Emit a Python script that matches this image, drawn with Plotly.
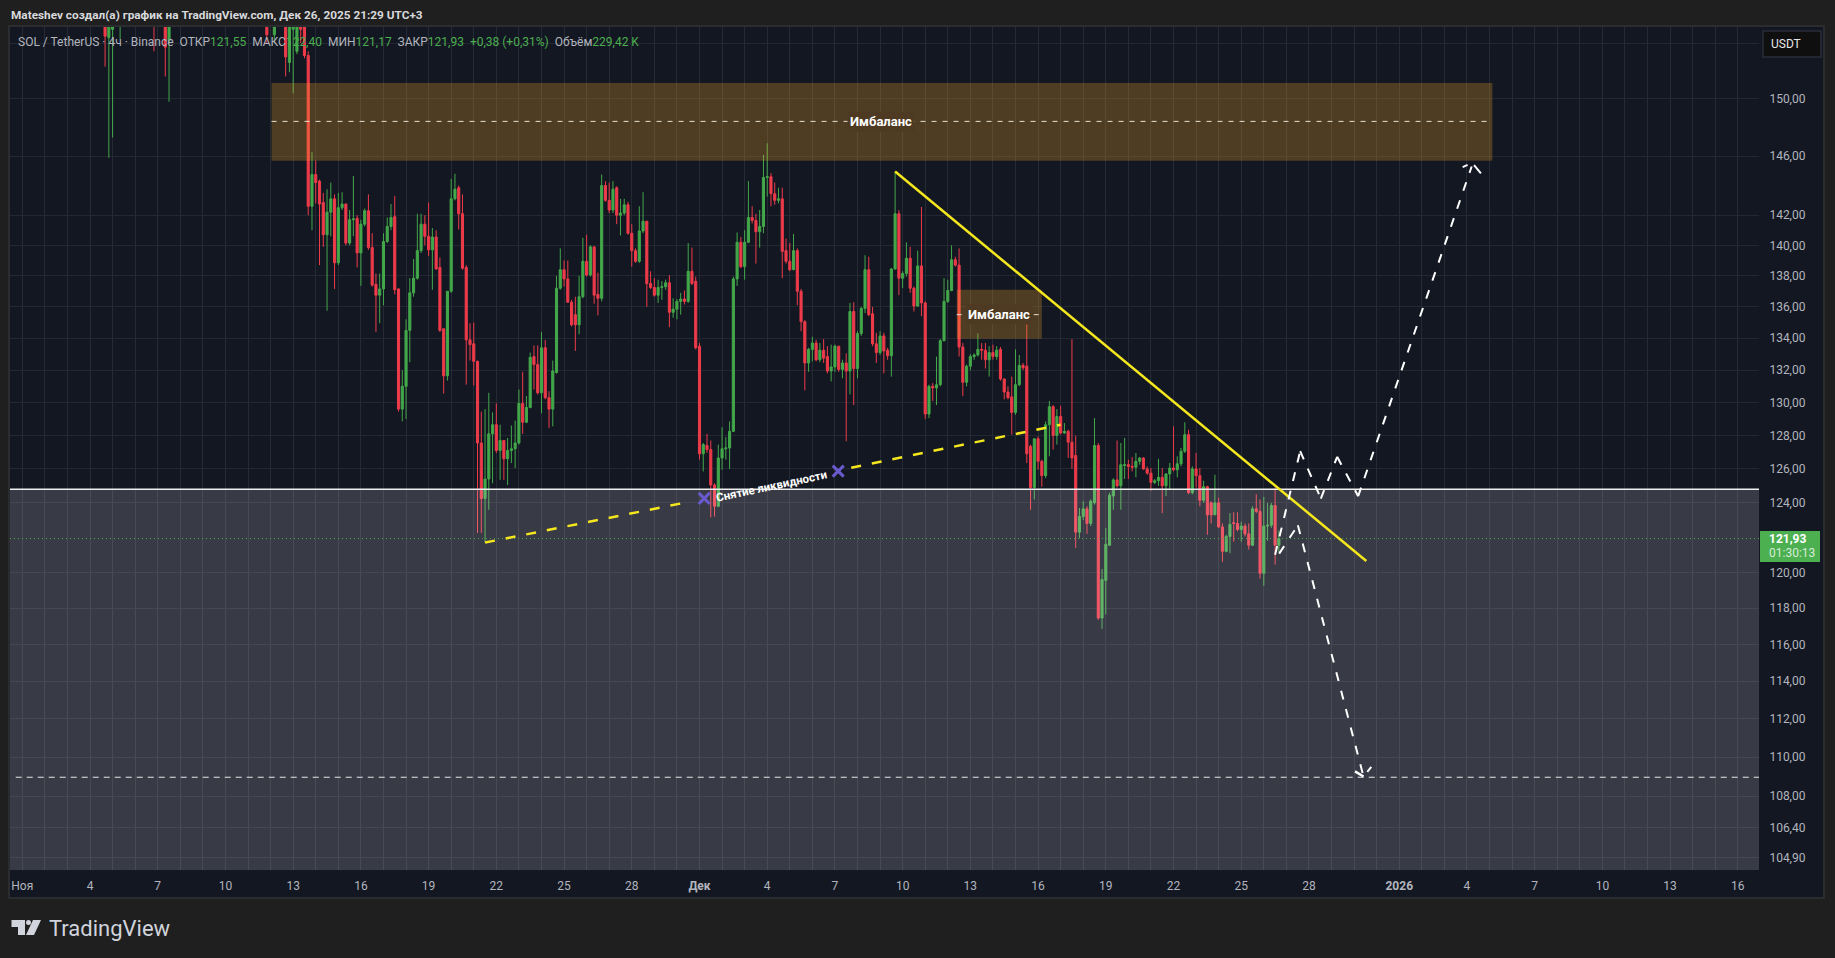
import numpy as np
import pandas as pd
import plotly.graph_objects as go

# 4h bars that poke into the window from above in early November
early_times = ["2025-11-04 16:00", "2025-11-04 20:00", "2025-11-05 00:00", "2025-11-05 08:00", "2025-11-06 20:00",
               "2025-11-07 08:00", "2025-11-07 12:00", "2025-11-11 20:00", "2025-11-12 04:00", "2025-11-12 16:00",
               "2025-11-12 20:00", "2025-11-13 00:00", "2025-11-13 04:00", "2025-11-13 08:00", "2025-11-13 12:00"]
early_open = [158, 154.4, 155, 155.6, 158, 158, 154.2, 158, 154.6, 158, 152.6, 155, 153.4, 156, 157]
early_high = [160, 158, 159, 160, 160, 160, 160, 160, 158, 159, 156, 157, 156, 157, 158]
early_low = [152.3, 145.9, 147.3, 154.3, 153.4, 151.6, 149.8, 154.0, 154.0, 151.6, 151.9, 150.4, 153.2, 154, 152.9]
early_close = [154.5, 157, 158, 158, 156, 153.7, 158, 154.6, 157, 153.0, 155.5, 156, 155.5, 155, 153.1]

# contiguous 4h bars from Nov 13 16:00 to Dec 26 16:00
main_times = pd.date_range("2025-11-13 16:00", "2025-12-26 16:00", freq="4h")
main_open = [153.1,142.6,144.75,144.3,142.85,140.7,142.2,143.1,138.85,142.5,
    142.75,140.15,141.7,141.8,139.5,141.4,142.3,139.85,137.45,136.75,
    137.15,140.25,141.25,141.9,137.15,129.6,131.0,134.5,136.9,137.85,
    139.65,141.4,140.6,139.7,140.55,138.55,134.6,131.65,137.0,143.1,
    143.85,142.1,138.55,133.9,133.65,132.55,127.55,124.25,125.4,128.1,
    128.65,127.1,127.7,126.6,127.1,127.2,127.55,129.95,128.8,129.7,
    132.85,132.35,130.6,133.4,130.3,129.6,131.85,137.2,138.4,137.8,
    136.3,135.5,134.85,136.65,138.95,138.05,139.9,136.8,136.55,144.0,
    143.0,142.35,143.85,142.0,142.15,142.7,140.8,139.65,138.95,140.95,
    141.6,137.5,137.25,136.75,137.25,137.3,137.55,135.65,135.85,136.35,
    136.5,136.35,138.3,137.65,133.5,126.9,127.4,127.15,125.05,123.8,
    126.65,127.2,127.25,128.25,137.8,140.2,138.6,140.2,141.85,141.65,
    140.9,141.25,144.55,144.6,143.45,143.0,143.1,139.65,138.95,138.4,
    139.65,137.0,135.05,132.45,133.3,133.7,132.65,133.25,132.85,131.95,
    132.2,133.5,132.05,132.45,131.95,135.7,132.1,134.3,135.9,138.4,
    135.55,133.65,133.1,134.15,133.25,132.9,138.45,142.1,137.85,138.15,
    139.15,137.2,136.05,138.65,136.25,129.3,131.0,130.9,131.1,133.85,
    136.35,137.05,139.05,138.7,133.45,131.25,132.25,132.85,132.95,133.3,
    133.25,132.65,133.1,132.85,133.3,131.45,130.65,130.35,129.4,131.1,
    132.3,132.25,127.35,124.9,127.8,126.45,125.6,128.65,129.75,128.0,
    129.15,128.15,128.25,127.6,126.8,122.3,123.2,123.65,122.8,124.0,
    127.4,117.45,119.55,121.55,124.4,125.35,125.0,126.2,126.25,126.15,
    126.1,126.45,126.65,126.0,125.75,125.2,125.3,125.5,125.0,125.7,
    126.05,125.95,126.3,127.05,128.05,124.6,126.0,125.6,124.15,124.95,
    124.0,123.3,124.0,122.6,121.2,122.05,122.85,122.8,122.45,122.65,
    122.2,121.55,123.65,123.5,119.95,122.65,122.7,123.85,121.55]
main_high = [153.4,146.3,145.7,144.4,143.5,143.75,144.2,143.4,143.5,143.55,
    142.8,142.35,144.65,142.0,141.7,142.45,143.4,140.8,138.15,138.15,
    140.8,141.85,142.75,143.3,137.2,132.0,135.2,137.85,139.1,142.1,
    142.1,142.0,142.85,141.15,141.0,139.2,134.6,137.0,144.45,144.8,
    144.0,143.4,138.7,134.95,135.0,132.6,129.45,129.6,130.6,129.4,
    129.95,128.65,127.7,127.85,128.6,128.9,130.8,131.9,130.4,133.1,
    133.55,133.55,134.4,133.9,130.7,132.6,138.0,139.8,139.0,139.0,
    136.45,136.65,138.0,140.5,140.7,140.0,139.9,138.2,144.75,144.3,
    144.2,144.3,143.95,143.1,143.1,142.9,141.4,139.8,142.6,143.55,
    141.6,138.3,137.85,137.75,137.65,137.75,138.05,136.55,136.5,136.9,
    137.05,140.15,139.85,137.95,133.7,127.55,128.1,127.7,125.15,127.45,
    128.5,127.9,128.85,137.95,140.85,140.55,141.0,144.3,142.6,142.1,
    142.35,146.1,146.9,144.85,144.2,143.85,143.85,140.45,140.15,140.75,
    139.8,137.15,135.15,133.4,134.1,133.9,133.7,133.95,133.5,133.6,
    133.6,133.5,132.65,133.05,136.25,136.3,134.45,136.0,139.35,139.25,
    136.0,134.35,134.45,134.35,133.4,138.5,144.95,142.35,138.3,140.2,
    139.9,137.3,139.65,142.55,136.35,131.1,131.2,132.85,133.95,137.85,
    137.75,140.0,139.25,139.8,133.7,132.35,133.0,133.05,134.3,133.7,
    133.7,133.5,133.6,133.5,133.45,131.5,131.0,131.6,133.3,132.95,
    132.45,135.3,127.45,127.85,127.95,126.55,128.85,130.1,129.85,129.6,
    129.8,128.75,128.35,133.95,128.0,123.7,124.1,123.8,124.2,129.05,
    127.55,120.2,122.55,124.6,125.45,127.7,127.55,127.85,126.55,126.7,
    126.95,126.7,126.7,126.15,126.05,125.4,126.6,126.05,125.75,126.35,
    128.55,126.75,127.25,128.8,128.35,126.15,126.95,126.05,125.3,125.0,
    124.1,125.65,124.3,122.8,122.15,123.4,123.45,123.45,122.9,122.8,
    122.8,123.8,124.5,124.2,124.35,124.0,124.0,124.9,122.4]
main_low = [142.0,141.0,142.8,138.7,139.9,135.75,140.6,137.15,138.7,142.35,
    140.0,140.0,140.6,138.55,137.35,141.25,139.7,137.3,134.4,134.95,
    136.1,140.15,141.0,136.8,129.45,128.85,129.0,132.5,136.65,137.75,
    139.5,140.0,139.3,137.1,138.4,134.4,130.55,131.35,136.9,143.0,
    141.05,138.4,131.1,132.6,131.05,122.25,122.25,121.7,123.6,125.15,
    126.95,125.35,125.35,125.05,126.35,126.05,127.45,128.1,128.75,129.65,
    130.8,130.5,129.35,130.2,128.45,128.55,131.8,137.1,137.3,136.25,
    134.75,133.2,134.25,136.55,137.95,137.95,136.2,135.45,136.35,142.9,
    142.15,142.15,141.4,140.65,142.0,140.7,138.6,138.85,138.85,140.8,
    136.0,137.15,136.65,136.25,136.45,137.1,134.7,135.3,135.2,135.5,
    136.15,136.25,137.4,133.3,126.55,125.85,126.95,123.15,123.2,123.75,
    125.95,126.55,126.0,128.2,137.35,138.5,137.75,140.15,141.45,138.8,
    139.85,140.8,143.25,142.6,142.7,142.8,137.85,138.8,138.3,138.4,
    136.1,134.45,130.75,131.9,132.55,132.55,132.5,132.45,131.8,131.3,
    131.9,131.9,131.5,127.65,130.5,129.85,131.5,134.15,135.6,135.4,
    133.5,132.45,132.95,131.8,132.65,131.6,138.4,136.75,137.2,137.95,
    136.9,135.7,136.0,135.4,129.0,129.05,130.1,129.85,131.0,133.8,
    136.25,137.0,138.6,132.85,130.4,131.0,132.0,132.65,132.85,132.65,
    132.1,131.6,132.65,132.65,131.35,130.2,130.2,128.05,129.25,131.0,
    132.0,126.35,123.6,124.2,125.95,124.95,125.45,126.75,127.15,127.45,
    128.05,128.1,126.65,126.0,121.4,121.95,123.0,122.2,122.65,123.9,
    117.35,116.85,117.65,121.5,123.6,124.9,123.6,125.4,125.4,125.85,
    125.5,126.25,125.95,125.65,124.7,125.1,125.0,123.4,124.4,124.8,
    125.85,125.5,126.15,126.95,124.5,124.5,124.9,123.8,124.0,122.15,
    122.8,123.3,122.55,120.6,121.15,121.1,121.75,122.35,121.75,122.05,
    121.3,121.5,123.4,119.65,119.25,121.8,122.55,120.45,121.17]
main_close = [142.6,144.75,144.2,142.75,140.7,142.2,143.1,138.85,142.5,142.75,
    140.15,141.7,141.75,139.5,141.4,142.3,139.85,137.4,136.75,137.15,
    140.25,141.25,141.85,137.1,129.6,131.0,134.5,136.9,137.85,139.65,
    141.4,140.6,139.7,140.55,138.45,134.5,131.65,137.0,143.1,143.75,
    142.1,138.5,133.9,133.6,132.55,127.55,124.25,125.4,128.1,128.65,
    127.1,127.7,126.6,127.1,127.2,127.55,129.95,128.8,129.7,132.8,
    132.35,130.6,133.4,130.3,129.6,131.95,137.2,138.4,137.8,136.3,
    134.85,134.85,136.65,138.95,138.05,139.9,136.75,136.55,144.0,143.0,
    142.35,143.75,142.0,142.15,142.7,140.8,139.65,138.95,140.95,141.6,
    137.5,137.25,136.75,137.25,137.3,137.55,135.65,135.85,136.35,136.5,
    136.35,138.3,137.5,133.4,126.9,127.45,127.15,125.05,123.8,126.65,
    127.2,127.25,128.25,137.8,140.2,138.6,140.2,141.85,141.65,140.9,
    141.25,144.55,144.6,143.45,143.0,143.1,139.6,138.95,138.4,139.65,
    137.0,135.05,132.45,133.3,133.7,132.65,133.25,132.75,131.95,132.2,
    133.5,132.05,132.45,131.95,135.7,132.1,134.3,135.9,138.4,135.5,
    133.65,133.1,134.15,133.2,132.9,138.45,142.1,137.85,138.15,139.15,
    137.2,136.05,138.65,136.25,129.3,131.0,130.9,131.1,133.85,136.35,
    137.05,139.05,138.7,133.45,131.25,132.25,132.85,132.95,133.3,133.25,
    132.65,133.1,132.85,133.25,131.45,130.65,130.3,129.4,131.1,132.3,
    132.15,126.9,124.9,127.8,126.45,125.6,128.65,129.75,128.0,129.15,
    128.15,128.25,127.6,126.65,122.3,123.2,123.65,122.8,124.1,127.4,
    117.45,119.6,121.6,124.45,125.35,125.0,126.25,126.25,126.15,126.1,
    126.45,126.65,126.0,125.75,125.2,125.3,125.5,125.0,125.7,126.05,
    125.95,126.3,127.05,128.05,124.6,126.0,125.6,124.15,124.95,123.3,
    123.3,124.0,122.6,121.2,122.05,122.75,122.8,122.45,122.65,122.2,
    121.55,123.65,123.5,119.95,122.65,122.7,123.85,121.55,121.93]

# axis ticks
price_ticks = [104.9, 106.4, 108, 110, 112, 114, 116, 118, 120, 124, 126, 128, 130, 132, 134, 136, 138, 140, 142, 146, 150, 154]
price_labels = ["104,90", "106,40", "108,00", "110,00", "112,00", "114,00", "116,00", "118,00", "120,00", "124,00",
                "126,00", "128,00", "130,00", "132,00", "134,00", "136,00", "138,00", "140,00", "142,00", "146,00", "150,00", ""]
day_ticks = pd.date_range("2025-11-01", "2026-01-16", freq="D")
named_days = {"2025-11-01": "Ноя", "2025-11-04": "4", "2025-11-07": "7", "2025-11-10": "10", "2025-11-13": "13",
              "2025-11-16": "16", "2025-11-19": "19", "2025-11-22": "22", "2025-11-25": "25", "2025-11-28": "28",
              "2025-12-01": "<b>Дек</b>", "2025-12-04": "4", "2025-12-07": "7", "2025-12-10": "10", "2025-12-13": "13",
              "2025-12-16": "16", "2025-12-19": "19", "2025-12-22": "22", "2025-12-25": "25", "2025-12-28": "28",
              "2026-01-01": "<b>2026</b>", "2026-01-04": "4", "2026-01-07": "7", "2026-01-10": "10", "2026-01-13": "13",
              "2026-01-16": "16"}

# drawings on the chart: (date, price)
big_zone = [("2025-11-12 01:00", 151.13), ("2026-01-05 03:00", 145.69), 148.42]
small_zone = [("2025-12-12 09:30", 137.1), ("2025-12-16 04:00", 133.97), 135.5]
trend_line = [("2025-12-09 16:00", 144.95), ("2025-12-30 13:00", 120.65)]
liq_line_a = [("2025-11-21 12:00", 121.7), ("2025-11-30 14:00", 124.07)]
liq_line_b = [("2025-12-07 17:20", 126.07), ("2025-12-17 00:00", 128.65)]
liq_marks = [("2025-12-01 05:00", 124.26), ("2025-12-07 03:30", 125.87)]
path_up = [("2025-12-26 12:00", 121.0), ("2025-12-27 14:40", 127.06), ("2025-12-28 12:40", 124.25),
           ("2025-12-29 06:00", 126.72), ("2025-12-30 04:20", 124.39), ("2026-01-04 05:00", 145.3)]
path_down = [("2025-12-26 16:20", 121.07), ("2025-12-27 12:15", 122.7), ("2025-12-30 10:00", 109.0)]
level_low = 108.96
level_box = 124.8
last_price = 121.93

PLOT_L, PLOT_R, PLOT_T, PLOT_B = 10, 1759, 27, 870
Y_MIN, Y_MAX = 104.30, 155.17
TXT = "#b2b5be"
GREEN = "#4caf50"
YELLOW = "#f5e71e"


def px(v):
    return (v - PLOT_L) / (PLOT_R - PLOT_L)


def py(v):
    return (PLOT_B - v) / (PLOT_B - PLOT_T)


fig = go.Figure()

# everything in one candlestick trace so the box width is taken from the 4h spacing
fig.add_trace(go.Candlestick(
    x=early_times + [t.strftime("%Y-%m-%d %H:%M") for t in main_times],
    open=early_open + main_open,
    high=early_high + main_high,
    low=early_low + main_low,
    close=early_close + main_close,
    whiskerwidth=0,
    increasing=dict(line=dict(color="#43a84a", width=1), fillcolor="#43a84a"),
    decreasing=dict(line=dict(color="#ee3b4a", width=1), fillcolor="#ee3b4a"),
    showlegend=False,
    hoverinfo="skip",
))

shapes = []
annotations = []

# panel behind the plot and both axes
shapes.append(dict(type="rect", xref="paper", yref="paper", layer="below",
                   x0=px(9), x1=px(1824), y0=py(898), y1=py(26),
                   fillcolor="#131722", line=dict(color="#2a2c30", width=2)))


def seg(p0, p1, color, width, dash="solid"):
    return dict(type="line", xref="x", yref="y", layer="above", x0=p0[0], y0=p0[1], x1=p1[0], y1=p1[1],
                line=dict(color=color, width=width, dash=dash))


def stroke(anchor, dx, dy, color, width, standoff=0):
    # short stroke in screen pixels, hung on a data point
    annotations.append(dict(x=anchor[0], y=np.log10(anchor[1]), xref="x", yref="y", text="", showarrow=True,
                            arrowhead=0, ax=dx, ay=dy, standoff=standoff, startstandoff=0,
                            arrowwidth=width, arrowcolor=color))


# grey box under the level
shapes.append(dict(type="rect", xref="paper", yref="y", layer="above", x0=0, x1=1, y0=Y_MIN, y1=level_box,
                   fillcolor="rgba(255,245,255,0.16)", line=dict(width=0)))
shapes.append(dict(type="line", xref="paper", yref="y", layer="above", x0=0, x1=1, y0=level_box, y1=level_box,
                   line=dict(color="#f0f0f0", width=1.5)))

# price line
shapes.append(dict(type="line", xref="paper", yref="y", layer="above", x0=0, x1=1, y0=last_price, y1=last_price,
                   line=dict(color=GREEN, width=1, dash="1px,3px")))

# imbalance zones
for zone in (big_zone, small_zone):
    shapes.append(dict(type="rect", xref="x", yref="y", layer="above",
                       x0=zone[0][0], x1=zone[1][0], y0=zone[1][1], y1=zone[0][1],
                       fillcolor="rgba(255,170,40,0.25)", line=dict(width=0)))
    shapes.append(seg((zone[0][0], zone[2]), (zone[1][0], zone[2]), "#e8e0d0", 1, "5px,6px"))

shapes.append(dict(type="line", xref="x", yref="y", layer="above", x0="2025-10-31 17:00", x1="2026-01-16 22:30",
                   y0=level_low, y1=level_low, line=dict(color="#e8e8e8", width=1, dash="6px,5px")))

shapes.append(seg(trend_line[0], trend_line[1], YELLOW, 2.5))
shapes.append(seg(liq_line_a[0], liq_line_a[1], YELLOW, 2.5, "10px,11px"))
shapes.append(seg(liq_line_b[0], liq_line_b[1], YELLOW, 2.5, "10px,11px"))

for path in (path_up, path_down):
    for a, b in zip(path[:-1], path[1:]):
        shapes.append(seg(a, b, "#ffffff", 2, "9px,10px"))

# arrow heads, the dash pattern leaves small gaps at the tips
up_tip = ("2026-01-04 05:30", 145.55)
stroke(up_tip, -11, 5, "#ffffff", 2, standoff=5)
stroke(up_tip, 10, 12, "#ffffff", 2, standoff=3)
stroke(path_down[-1], -10, -6, "#ffffff", 2.5)
stroke(path_down[-1], 9, -11, "#ffffff", 2, standoff=6)

# liquidity crosses
for m in liq_marks:
    for dx, dy in ((-7, -7), (7, 7), (-7, 7), (7, -7)):
        stroke(m, dx, dy, "#6a5acd", 3)

# price tag and currency button
shapes.append(dict(type="rect", xref="paper", yref="paper", layer="above", x0=px(1760), x1=px(1820),
                   y0=py(562), y1=py(531), fillcolor=GREEN, line=dict(width=0)))
shapes.append(dict(type="rect", xref="paper", yref="paper", layer="above", x0=px(1763), x1=px(1821),
                   y0=py(57), y1=py(31), fillcolor="#0f0f0f", line=dict(color="#2a2e39", width=1.5)))

# logo mark
shapes.append(dict(type="path", xref="paper", yref="paper", layer="above", fillcolor="#d1d4dc", line=dict(width=0),
                   path="M %f %f L %f %f L %f %f L %f %f L %f %f L %f %f Z" % (
                       px(11.5), py(920), px(25), py(920), px(25), py(935), px(18), py(935), px(18), py(927), px(11.5), py(927))))
shapes.append(dict(type="circle", xref="paper", yref="paper", layer="above", fillcolor="#d1d4dc", line=dict(width=0),
                   x0=px(26), x1=px(31), y0=py(925), y1=py(920)))
shapes.append(dict(type="path", xref="paper", yref="paper", layer="above", fillcolor="#d1d4dc", line=dict(width=0),
                   path="M %f %f L %f %f L %f %f L %f %f Z" % (
                       px(33), py(920), px(41), py(920), px(34), py(935), px(26), py(935))))


def paper_text(x, y, text, size, color, anchor="left"):
    annotations.append(dict(xref="paper", yref="paper", x=px(x), y=py(y), text=text, showarrow=False,
                            xanchor=anchor, yanchor="middle", align="left",
                            font=dict(family="Roboto", size=size, color=color)))


def val(s):
    return "<span style='color:%s'>%s</span>" % (GREEN, s)


paper_text(9, 15, "<b>Mateshev создал(а) график на TradingView.com, Дек 26, 2025 21:29 UTC+3</b>", 11.8, "#d8d9dc")
paper_text(16, 42, "SOL / TetherUS · 4ч · Binance  ОТКР" + val("121,55") + "  МАКС" + val("122,40") + "  МИН" + val("121,17")
           + "  ЗАКР" + val("121,93") + "  " + val("+0,38 (+0,31%)") + "  Объём" + val("229,42 K"), 12, TXT)
paper_text(1769, 44.5, "USDT", 12, "#e8e8e8")
paper_text(1767, 539, "<b>121,93</b>", 12, "#ffffff")
paper_text(1767, 553, "01:30:13", 12, "#d6ecd6")
paper_text(47, 928, "TradingView", 22, "#d1d4dc")

# zone and level labels, log axis wants log10 in annotations
for x, p in (("2025-12-09 01:00", big_zone[2]), ("2025-12-14 06:00", small_zone[2])):
    annotations.append(dict(x=x, y=np.log10(p), xref="x", yref="y", text="<b>Имбаланс</b>", showarrow=False,
                            bgcolor="#4e3a22", borderpad=2, font=dict(family="Roboto", size=13, color="#ffffff")))
annotations.append(dict(x="2025-12-04 05:00", y=np.log10(125.0), xref="x", yref="y", text="<b>Снятие ликвидности</b>",
                        showarrow=False, textangle=-12, font=dict(family="Roboto", size=11.5, color="#ffffff")))

fig.update_layout(
    width=1835, height=958, autosize=False,
    margin=dict(l=PLOT_L, r=1835 - PLOT_R, t=PLOT_T, b=958 - PLOT_B),
    paper_bgcolor="#1f1f1f", plot_bgcolor="#131722",
    font=dict(family="Roboto", size=12, color=TXT),
    showlegend=False, boxgap=0.2, dragmode=False,
    shapes=shapes, annotations=annotations,
)
fig.update_xaxes(
    type="date", range=["2025-10-31 10:55", "2026-01-16 22:30"], rangeslider_visible=False,
    tickmode="array", tickvals=[d.strftime("%Y-%m-%d") for d in day_ticks],
    ticktext=[named_days.get(d.strftime("%Y-%m-%d"), "") for d in day_ticks],
    tickangle=0, showgrid=True, gridcolor="#252a35", gridwidth=1, zeroline=False, showline=False,
    ticks="outside", ticklen=5, tickcolor="rgba(0,0,0,0)",
)
fig.update_yaxes(
    type="log", side="right", range=[np.log10(Y_MIN), np.log10(Y_MAX)],
    tickmode="array", tickvals=price_ticks, ticktext=price_labels,
    showgrid=True, gridcolor="#222732", gridwidth=1, zeroline=False, showline=False,
    ticks="outside", ticklen=7, tickcolor="rgba(0,0,0,0)",
)

fig.write_html("out.html", config=dict(displayModeBar=False),
               post_script="document.body.style.margin='0';document.body.style.overflow='hidden';")
